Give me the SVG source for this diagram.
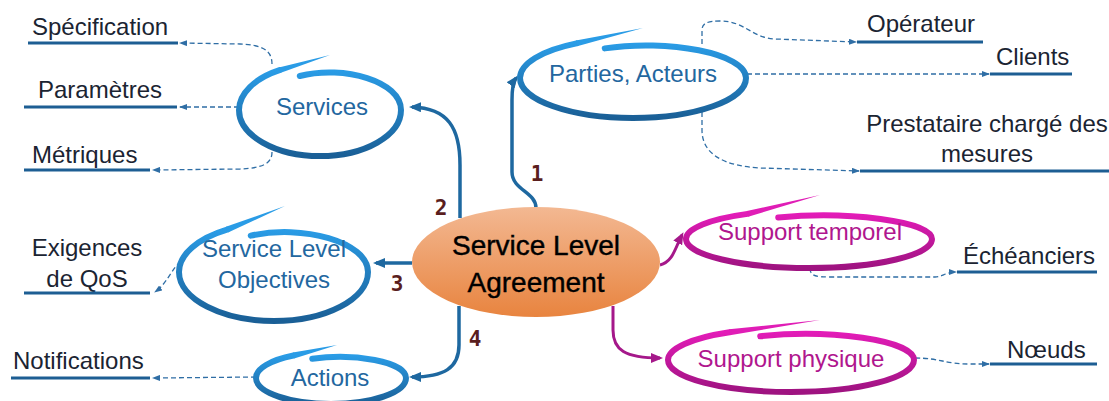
<svg xmlns="http://www.w3.org/2000/svg" width="1109" height="401" viewBox="0 0 1109 401">
<defs>
<style>
.ring-b{fill:none;stroke:url(#gb);stroke-width:6;stroke-linecap:round;stroke-linejoin:round}
.ring-m{fill:none;stroke:url(#gm);stroke-width:6;stroke-linecap:round;stroke-linejoin:round}
.tail-b{fill:#2A9CE6}
.tail-m{fill:#E01DB6}
.lbl{font-family:"Liberation Sans",Arial,sans-serif;font-size:24px;text-anchor:middle}
.lbl-b{fill:#23679F}
.lbl-m{fill:#B0168E}
.leaf{font-family:"Liberation Sans",Arial,sans-serif;font-size:24px;fill:#1B2432}
.mid{text-anchor:middle}
.ul{stroke:#1D5E93;stroke-width:3;fill:none}
.solid-b{fill:none;stroke:#1E68A0;stroke-width:3.5;marker-end:url(#ab)}
.solid-m{fill:none;stroke:#A5188A;stroke-width:3;marker-end:url(#am)}
.dash{fill:none;stroke:#2F6EA5;stroke-width:1.3;stroke-dasharray:5 3;marker-end:url(#ad)}
.num{font-family:"DejaVu Sans Mono","Liberation Mono",monospace;font-weight:bold;font-size:21px;fill:#5A1E1E;text-anchor:middle}
.center{font-family:"Liberation Sans",Arial,sans-serif;font-size:28px;fill:#000;stroke:#000;stroke-width:0.4;text-anchor:middle}
</style>
<linearGradient id="gb" x1="0" y1="0" x2="0" y2="1">
<stop offset="0" stop-color="#2A9CE6"/>
<stop offset="1" stop-color="#1A5F96"/>
</linearGradient>
<linearGradient id="gm" x1="0" y1="0" x2="0" y2="1">
<stop offset="0" stop-color="#E31CB8"/>
<stop offset="1" stop-color="#9E1380"/>
</linearGradient>
<linearGradient id="go" x1="0" y1="0" x2="0" y2="1">
<stop offset="0" stop-color="#F3B892"/>
<stop offset="1" stop-color="#E8843F"/>
</linearGradient>
<marker id="ab" viewBox="0 0 12 10" refX="9" refY="5" markerWidth="12" markerHeight="10" markerUnits="userSpaceOnUse" orient="auto">
<path d="M0,0 L12,5 L0,10 z" fill="#1E68A0"/>
</marker>
<marker id="am" viewBox="0 0 12 10" refX="9" refY="5" markerWidth="12" markerHeight="10" markerUnits="userSpaceOnUse" orient="auto">
<path d="M0,0 L12,5 L0,10 z" fill="#A5188A"/>
</marker>
<marker id="ad" viewBox="0 0 8 6" refX="7" refY="3" markerWidth="8" markerHeight="6" markerUnits="userSpaceOnUse" orient="auto">
<path d="M0,0 L8,3 L0,6 z" fill="#2F6EA5"/>
</marker>
</defs>

<g id="connectors">
<path class="solid-b" d="M536,208 C536,192 512,190 512,172 L512,100 C512,88 513,82 516,78"/>
<path class="solid-b" d="M460,218 L460,165 C460,128 448,108 412,107"/>
<path class="solid-b" d="M412,263 L376,263"/>
<path class="solid-b" d="M459,306 L459,345 C459,368 444,377 412,377"/>
<path class="solid-m" d="M660,265 C673,262 675,248 682,235"/>
<path class="solid-m" d="M613,306 L613,330 C613,350 625,358 660,358"/>
<path class="dash" d="M272,64 C272,50 262,45 240,44 L180,43"/>
<path class="dash" d="M239,107 L180,107"/>
<path class="dash" d="M272,152 C272,164 262,168 240,169 L153,170"/>
<path class="dash" d="M181,262 C172,267 168,283 155,292"/>
<path class="dash" d="M256,377 L153,378"/>
<path class="dash" d="M702,44 L702,30 C702,23 708,21 720,21 C745,21 752,38 775,39 L856,42"/>
<path class="dash" d="M747,74 L989,74"/>
<path class="dash" d="M702,112 L702,130 C702,155 725,166 760,168 L859,171"/>
<path class="dash" d="M810,268 C810,276 816,277 830,277 L935,277 C942,277 946,272 956,272"/>
<path class="dash" d="M915,358 C940,358 945,364 970,364 L989,364"/>
<text class="num" x="537" y="181">1</text>
<text class="num" x="441" y="215">2</text>
<text class="num" x="397" y="291">3</text>
<text class="num" x="475" y="346">4</text>
</g>

<g id="node-sla">
<ellipse cx="536" cy="262" rx="124" ry="55" fill="url(#go)"/>
<text class="center" x="536" y="255">Service Level</text>
<text class="center" x="536" y="292">Agreement</text>
</g>

<g id="node-services">
<path class="ring-b" d="M299.8,76 C344.3,64.9 401,81.5 401,110 C401,135.4 364.7,156 320,156 C275.3,156 239,135.4 239,110 C239,93.6 254.5,78.4 279.5,70.2"/>
<path class="tail-b" d="M280.2,73 L330,55 L278.8,67.4 Z"/>
<text class="lbl lbl-b" x="322" y="115">Services</text>
</g>

<g id="node-parties">
<path class="ring-b" d="M604.75,48.4 C666.9,38.8 746,53.2 746,78 C746,100.1 695.4,118 633,118 C570.6,118 520,100.1 520,78 C520,63.7 541.6,50.5 576.5,43.4"/>
<path class="tail-b" d="M577.1,46.2 L643,28 L575.9,40.6 Z"/>
<text class="lbl lbl-b" x="633" y="82">Parties, Acteurs</text>
</g>

<g id="node-slo">
<path class="ring-b" d="M250.75,235.7 C301.9,224 368,241.6 368,272 C368,299 325.8,321 274,321 C222.2,321 179,299 179,272 C179,254.5 197.8,238.3 227,229.6"/>
<path class="tail-b" d="M228.1,232.4 L285,206 L225.9,226.8 Z"/>
<text class="lbl lbl-b" x="274" y="257">Service Level</text>
<text class="lbl lbl-b" x="274" y="288">Objectives</text>
</g>

<g id="node-actions">
<path class="ring-b" d="M312.25,358.8 C353.5,352.5 406,361.9 406,378 C406,392.4 372.4,404 331,404 C289.6,404 256,392.4 256,378 C256,368.7 270.3,360.1 293.5,355.5"/>
<path class="tail-b" d="M294.2,358.4 L337,345 L292.8,352.6 Z"/>
<text class="lbl lbl-b" x="330" y="386">Actions</text>
</g>

<g id="node-temporel">
<path class="ring-m" d="M778.25,217.5 C845.9,210.6 932,221 932,239 C932,255 876.9,268 809,268 C741.1,268 686,255 686,239 C686,228.6 709.5,219.1 747.5,213.9"/>
<path class="tail-m" d="M748.2,216.8 L820,195 L746.8,211 Z"/>
<text class="lbl lbl-m" x="810" y="240">Support temporel</text>
</g>

<g id="node-physique">
<path class="ring-m" d="M760.25,336.3 C827.9,328.6 914,340.2 914,360 C914,377.7 858.9,392 791,392 C723.1,392 668,377.7 668,360 C668,348.6 691.5,338 729.5,332.3"/>
<path class="tail-m" d="M729.9,335.3 L820,320 L729.1,329.3 Z"/>
<text class="lbl lbl-m" x="791" y="367">Support physique</text>
</g>

<g id="leaf-specification">
<text class="leaf" x="32" y="35">Spécification</text>
<line class="ul" x1="28" y1="43" x2="178" y2="43"/>
</g>
<g id="leaf-parametres">
<text class="leaf" x="38" y="98">Paramètres</text>
<line class="ul" x1="24" y1="107" x2="177" y2="107"/>
</g>
<g id="leaf-metriques">
<text class="leaf" x="32" y="163">Métriques</text>
<line class="ul" x1="24" y1="170" x2="150" y2="170"/>
</g>
<g id="leaf-exigences">
<text class="leaf mid" x="87" y="256">Exigences</text>
<text class="leaf mid" x="87" y="287">de QoS</text>
<line class="ul" x1="24" y1="293" x2="150" y2="293"/>
</g>
<g id="leaf-notifications">
<text class="leaf" x="13" y="369">Notifications</text>
<line class="ul" x1="11" y1="378" x2="150" y2="378"/>
</g>
<g id="leaf-operateur">
<text class="leaf" x="867" y="32">Opérateur</text>
<line class="ul" x1="857" y1="42" x2="983" y2="42"/>
</g>
<g id="leaf-clients">
<text class="leaf" x="996" y="65">Clients</text>
<line class="ul" x1="990" y1="74" x2="1072" y2="74"/>
</g>
<g id="leaf-prestataire">
<text class="leaf mid" x="987" y="132">Prestataire chargé des</text>
<text class="leaf mid" x="987" y="162">mesures</text>
<line class="ul" x1="860" y1="171" x2="1109" y2="171"/>
</g>
<g id="leaf-echeanciers">
<text class="leaf" x="963" y="264">Échéanciers</text>
<line class="ul" x1="957" y1="272" x2="1097" y2="272"/>
</g>
<g id="leaf-noeuds">
<text class="leaf" x="1007" y="358">Nœuds</text>
<line class="ul" x1="990" y1="364" x2="1097" y2="364"/>
</g>
</svg>
